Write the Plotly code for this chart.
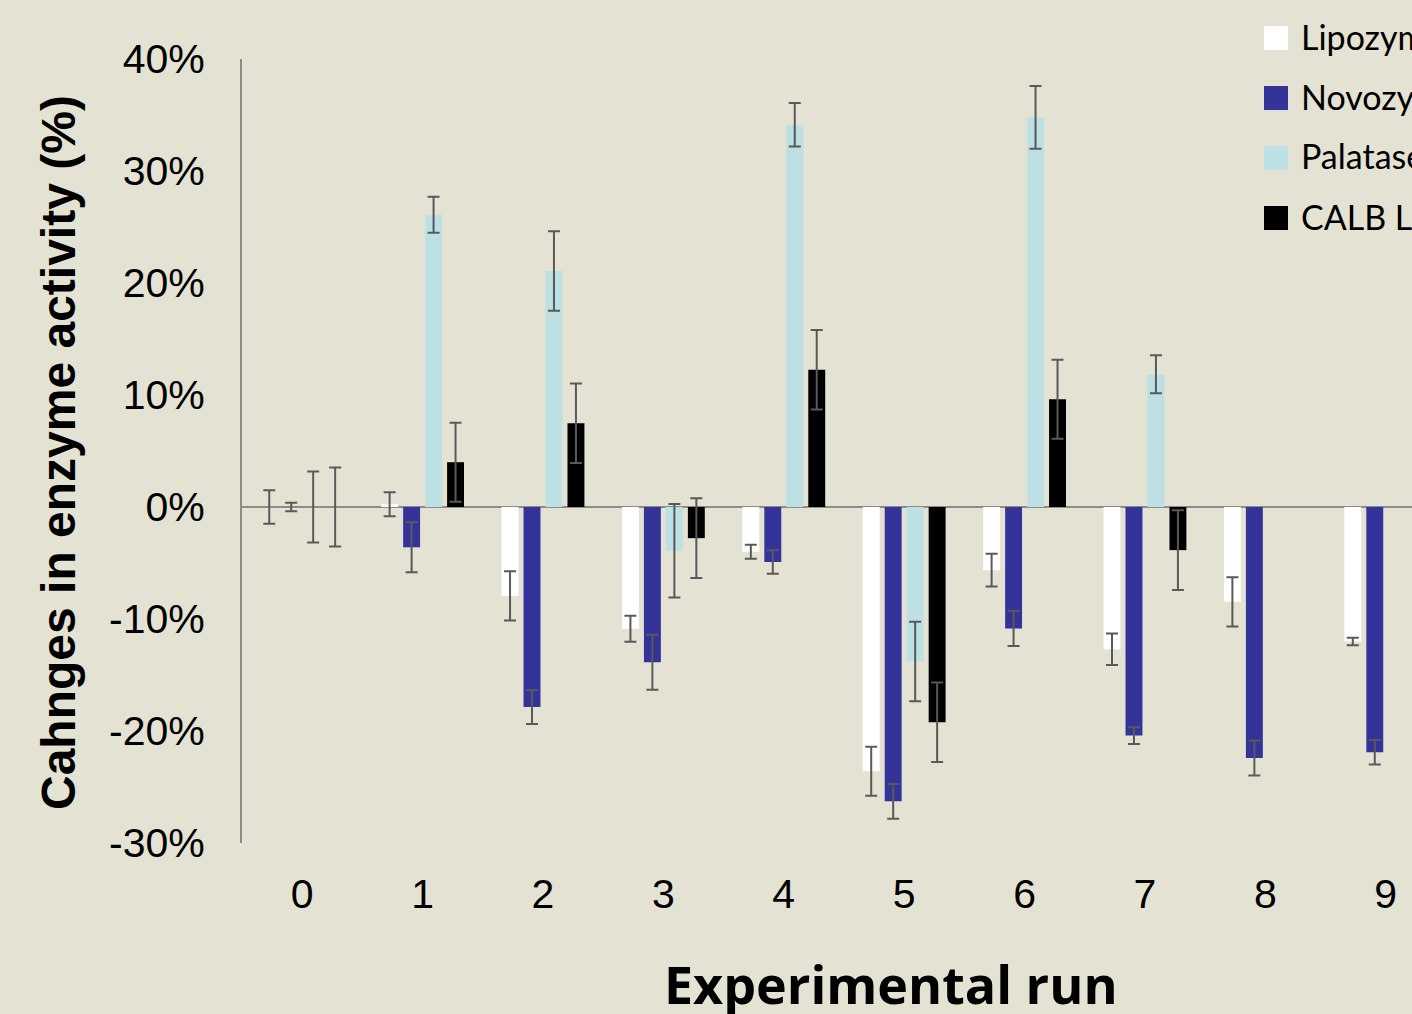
import plotly.graph_objects as go

# ---------------- data ----------------
runs = [0, 1, 2, 3, 4, 5, 6, 7, 8, 9]
run_labels = ["0", "1", "2", "3", "4", "5", "6", "7", "8", "9"]

series_names = ["Lipozyme TL 100L", "Novozym 388", "Palatase 20000L", "CALB L"]
series_colors = ["#FFFFFF", "#343399", "#BCE0E3", "#000000"]

lipozyme = [0.0, 0.25, -7.94, -10.88, -4.0, -23.6, -5.64, -12.7, -8.47, -12.01]
lipozyme_err = [1.5, 1.07, 2.2, 1.16, 0.63, 2.19, 1.46, 1.4, 2.2, 0.33]

novozym = [0.0, -3.6, -17.86, -13.86, -4.92, -26.28, -10.85, -20.41, -22.41, -21.9]
novozym_err = [0.37, 2.23, 1.52, 2.46, 1.05, 1.55, 1.56, 0.74, 1.56, 1.1]

palatase = [0.0, 26.1, 21.08, -3.91, 34.13, -13.8, 34.78, 11.85, None, None]
palatase_err = [3.17, 1.61, 3.55, 4.18, 1.94, 3.55, 2.8, 1.7, None, None]

calb = [0.0, 4.0, 7.47, -2.78, 12.26, -19.22, 9.62, -3.85, None, None]
calb_err = [3.53, 3.53, 3.55, 3.57, 3.55, 3.55, 3.53, 3.55, None, None]

y_ticks = [-30, -20, -10, 0, 10, 20, 30, 40]
y_tick_labels = ["-30%", "-20%", "-10%", "0%", "10%", "20%", "30%", "40%"]

values = [lipozyme, novozym, palatase, calb]
errors = [lipozyme_err, novozym_err, palatase_err, calb_err]

# ---------------- layout geometry ----------------
W, H = 1412, 1014
ML, MR, MT, MB = 242, 0, 59, 171
PW, PH = W - ML - MR, H - MT - MB

def px_x(px):
    return (px - ML) / PW

def px_y(py):
    return (H - MB - py) / PH

BG = "#E4E2D2"
AXIS = "#8C8C8C"
ERR = "#595959"

fig = go.Figure()
for name, col, v, e in zip(series_names, series_colors, values, errors):
    fig.add_trace(go.Bar(
        x=runs, y=v, name=name,
        marker=dict(color=col, line=dict(width=0)),
        error_y=dict(type="data", array=[0 if a is None else a for a in e],
                     visible=True, color=ERR, thickness=2, width=6),
        showlegend=False,
    ))

fig.update_layout(
    width=W, height=H,
    margin=dict(l=ML, r=MR, t=MT, b=MB, pad=0),
    paper_bgcolor=BG, plot_bgcolor=BG,
    barmode="group", bargap=0.27, bargroupgap=0.23,
    font=dict(family="Liberation Sans, Arial, sans-serif", color="#000000"),
)

fig.update_xaxes(
    range=[-0.5, 9.218], tickvals=runs, ticktext=run_labels,
    showgrid=False, zeroline=False, showline=False, ticks="",
    tickfont=dict(size=41, family="Liberation Sans, Arial, sans-serif"),
    ticklabelstandoff=23,
)
fig.update_yaxes(
    range=[-30, 40], tickvals=y_ticks, ticktext=y_tick_labels,
    showgrid=False, zeroline=True, zerolinecolor=AXIS, zerolinewidth=2,
    showline=True, linecolor=AXIS, linewidth=2, ticks="",
    tickfont=dict(size=41, family="Liberation Sans, Arial, sans-serif"),
    ticklabelstandoff=27,
)

# axis titles
fig.add_annotation(
    text="<b>Cahnges in enzyme activity (%)</b>", textangle=-90,
    xref="paper", yref="paper", x=px_x(58), y=px_y(453),
    xanchor="center", yanchor="middle", showarrow=False,
    font=dict(size=48, family="Liberation Sans, Arial, sans-serif", color="#000000"),
)

fig.add_annotation(
    text="<b>Experimental run</b>",
    xref="paper", yref="paper", x=px_x(891), y=px_y(983),
    xanchor="center", yanchor="middle", showarrow=False,
    font=dict(size=52, family="Open Sans, Lato, sans-serif", color="#000000"),
)

# legend (manual, to match large swatches)
legend_rows = [38, 98, 158, 218]
for name, col, cy in zip(series_names, series_colors, legend_rows):
    fig.add_shape(type="rect", xref="paper", yref="paper",
                  x0=px_x(1264), x1=px_x(1288), y0=px_y(cy + 12), y1=px_y(cy - 12),
                  fillcolor=col, line=dict(width=0), layer="above")
    fig.add_annotation(text=name, xref="paper", yref="paper",
                       x=px_x(1299), y=px_y(cy - 2), xanchor="left", yanchor="middle",
                       showarrow=False,
                       font=dict(size=34, family="Lato, Carlito, sans-serif", color="#000000"))

fig.write_html("out.html")
